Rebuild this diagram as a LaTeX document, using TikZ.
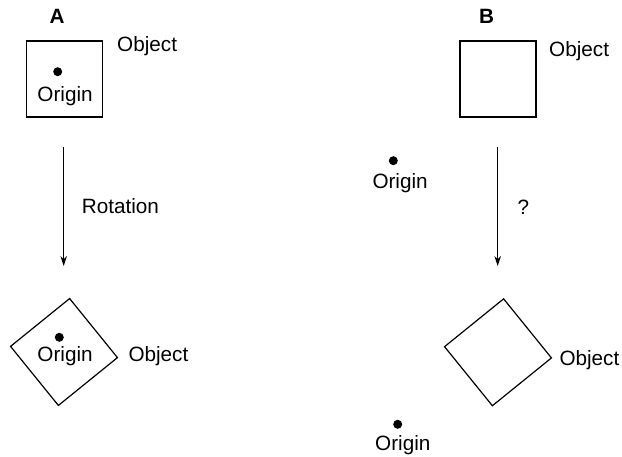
\documentclass[tikz,border=0pt]{standalone}
\usepackage{fontspec}
\setmainfont{Liberation Sans}
\usetikzlibrary{arrows.meta}
\begin{document}
\begin{tikzpicture}[x=1pt,y=-1pt,
  lbl/.style={inner sep=0pt,anchor=base west,font=\fontsize{20.7}{24}\selectfont},
  ttl/.style={inner sep=0pt,anchor=base,font=\fontsize{20.7}{24}\selectfont\bfseries},
  sq/.style={draw,line width=1.2pt,rectangle,minimum size=76pt,inner sep=0pt},
  dot/.style={circle,fill,inner sep=0pt,minimum size=9pt},
  arr/.style={line width=1.2pt,-{Stealth[length=10pt,width=6.5pt]}}]
\useasboundingbox (0,0) rectangle (622,457);
% Panel A
\node[ttl] (tA) at (57,24) {A};
\node[sq] (sqA) at (64.5,79) {};
\node[dot] (dA) at (57.7,71.7) {};
\node[lbl] (oA) at (37.3,101.7) {Origin};
\node[lbl] (obA) at (117,52) {Object};
\coordinate (aTop) at (63.7,147);
\coordinate (aBot) at (63.7,266);
\draw[arr] (aTop) -- (aBot);
\node[lbl] (rot) at (81.7,214) {Rotation};
\node[sq,rotate=39] (sqA2) at (64,352) {};
\node[dot] (dA2) at (59.3,337.3) {};
\node[lbl] (oA2) at (37.3,361.7) {Origin};
\node[lbl] (obA2) at (128.3,361.3) {Object};
% Panel B
\node[ttl] (tB) at (486.7,24) {B};
\node[sq] (sqB) at (498,79) {};
\node[lbl] (obB) at (549,56.7) {Object};
\node[dot] (dB) at (393.3,160.7) {};
\node[lbl] (oB) at (372.3,188.3) {Origin};
\coordinate (bTop) at (497.7,147);
\coordinate (bBot) at (497.7,266);
\draw[arr] (bTop) -- (bBot);
\node[lbl,anchor=base] (q) at (523.3,214.6) {?};
\node[sq,rotate=39] (sqB2) at (498,352.3) {};
\node[lbl] (obB2) at (559.3,366) {Object};
\node[dot] (dB2) at (397.7,424.3) {};
\node[lbl] (oB2) at (375,450.7) {Origin};
\end{tikzpicture}
\end{document}
